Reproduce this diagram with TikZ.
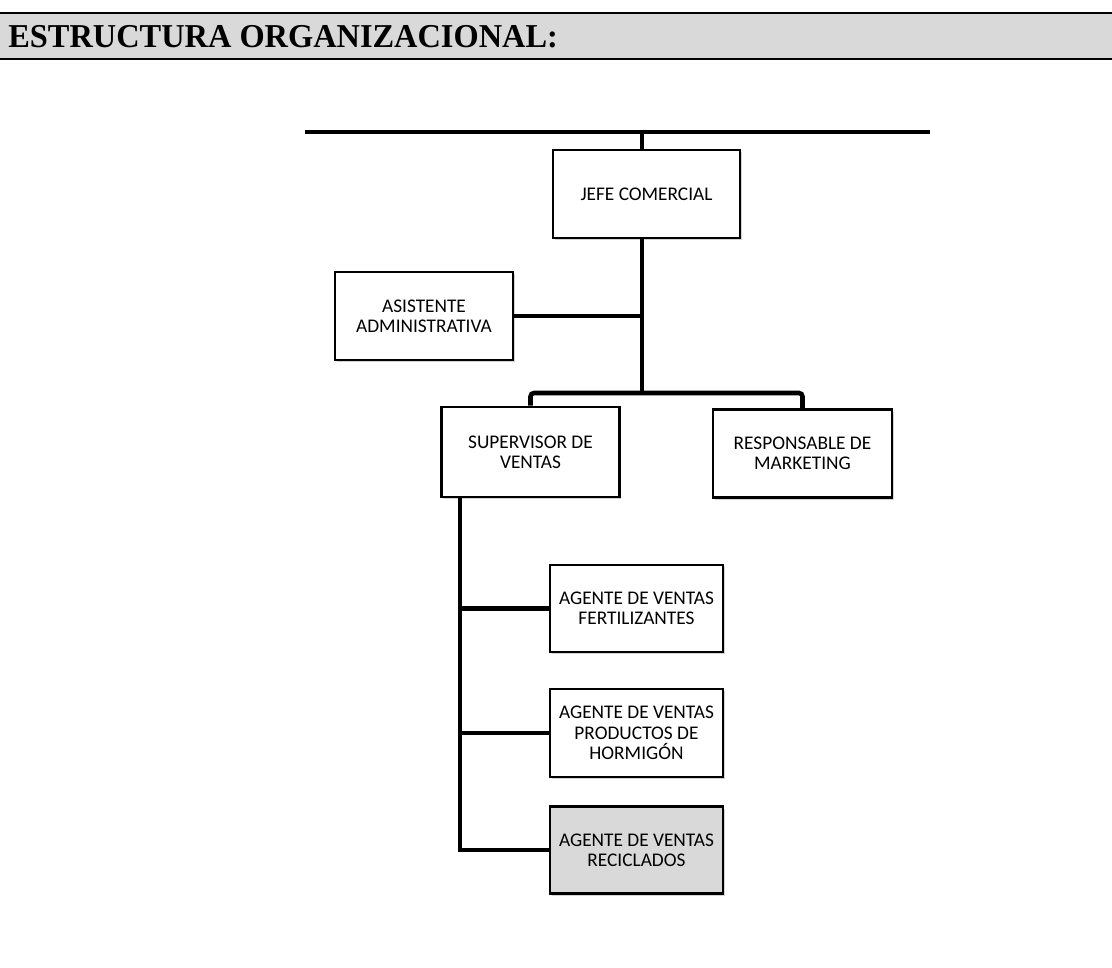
\documentclass[tikz,border=0pt]{standalone}
\usepackage{fontspec}
\setmainfont{Carlito}
\newfontfamily\titlefont{Liberation Serif}
\usetikzlibrary{shadows}
\definecolor{headgray}{RGB}{217,217,217}
\definecolor{agentgray}{RGB}{217,217,217}
\tikzset{
  orgbox/.style={draw,line width=1.5pt,fill=white,align=center,inner sep=2pt,
    minimum width=3.56cm,minimum height=1.76cm,font=\fontsize{11}{11.6}\selectfont,
    drop shadow={shadow xshift=1pt,shadow yshift=-1.3pt,opacity=0.35}},
  link/.style={line width=2.6pt},
  headrule/.style={line width=1.7pt}
}
\begin{document}
\begin{tikzpicture}[x=0.02cm,y=-0.02cm]
  \useasboundingbox (0,0) rectangle (1112,967);
  \fill[headgray] (0,13) rectangle (1112,59);
  \draw[headrule] (0,13) -- (1112,13);
  \draw[headrule] (0,59) -- (1112,59);
  \node[anchor=west,inner sep=0pt,font=\titlefont\bfseries\fontsize{19}{22}\selectfont,xscale=0.97] (title) at (8,37) {ESTRUCTURA ORGANIZACIONAL:};

  \node[orgbox,minimum width=3.74cm] (jefe) at (646.5,194) {JEFE COMERCIAL};
  \node[orgbox] (asis) at (424,316) {ASISTENTE\\ADMINISTRATIVA};
  \node[orgbox,minimum height=1.8cm] (sup) at (530.5,452) {SUPERVISOR DE\\VENTAS};
  \node[orgbox,minimum width=3.58cm] (resp) at (802.5,453.5) {RESPONSABLE DE\\MARKETING};
  \node[orgbox,minimum width=3.46cm,minimum height=1.74cm] (ag1) at (636.5,608.5) {AGENTE DE VENTAS\\FERTILIZANTES};
  \node[orgbox,minimum width=3.46cm,minimum height=1.76cm] (ag2) at (636.5,733) {AGENTE DE VENTAS\\PRODUCTOS DE\\HORMIGÓN};
  \node[orgbox,minimum width=3.46cm,minimum height=1.74cm,fill=agentgray] (ag3) at (636.5,850) {AGENTE DE VENTAS\\RECICLADOS};

  \coordinate (lineL) at (305,132);
  \coordinate (lineR) at (930,132);
  \coordinate (hub) at ([xshift=-0.09cm]jefe.south |- 0,393);
  \coordinate (spine) at ([xshift=0.4cm]sup.south west);

  \draw[link] (lineL) -- (lineR);
  \draw[link] (hub |- lineL) -- (hub |- jefe.north);
  \draw[link] (hub |- jefe.south) -- (hub);
  \draw[link] (asis.east) -- (asis.east -| hub);
  \draw[link,rounded corners=2pt] (sup.north) |- (hub) -| (resp.north);
  \draw[link] (spine) |- (ag3.west);
  \draw[link] (ag1.west -| spine) -- (ag1.west);
  \draw[link] (ag2.west -| spine) -- (ag2.west);
\end{tikzpicture}
\end{document}
